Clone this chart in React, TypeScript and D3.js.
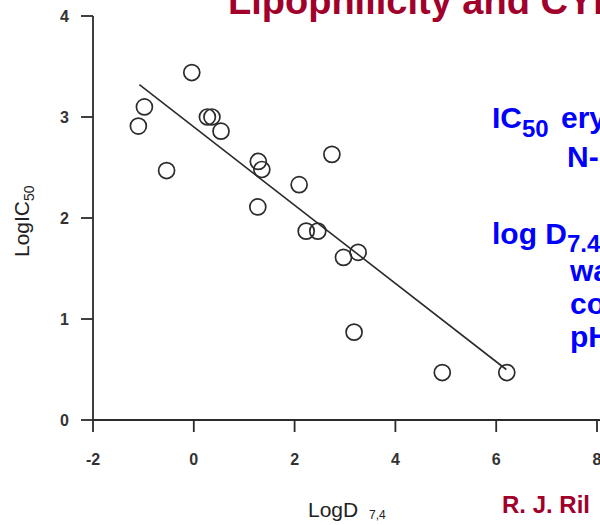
import React from 'react';
import * as d3 from 'd3';

const logD = [-0.04, -0.98, -1.1, -0.54, 0.27, 0.36, 0.54, 1.28, 1.35, 1.27, 2.09, 2.74, 2.23, 2.46, 2.97, 3.26, 3.18, 4.93, 6.21];
const logIC50 = [3.44, 3.1, 2.91, 2.47, 3.0, 3.0, 2.86, 2.56, 2.48, 2.11, 2.33, 2.63, 1.87, 1.87, 1.61, 1.66, 0.87, 0.47, 0.47];
const fitX = [-1.08, 6.2];
const fitY = [3.32, 0.5];
const xTicks = [-2, 0, 2, 4, 6, 8];
const yTicks = [0, 1, 2, 3, 4];

const W = 600;
const H = 525;
const RED = '#A1002B';
const BLUE = '#0000FF';
const INK = '#2b2b2b';
const FONT = 'Liberation Sans, Arial, Helvetica, sans-serif';

export default function App() {
  const x = d3.scaleLinear().domain([-2, 8]).range([93, 597]);
  const y = d3.scaleLinear().domain([0, 4]).range([420, 16]);
  const line = d3.line<number>().x((d) => x(d)).y((_, i) => y(fitY[i]));
  const pts = logD.map((d, i) => ({ x: d, y: logIC50[i] }));

  return (
    <svg width={W} height={H} style={{ position: 'absolute', left: 0, top: 0, background: '#fff' }} fontFamily={FONT}>
      <rect x={0} y={0} width={W} height={H} fill="#fff" />
      {/* title */}
      <text x={228} y={13.5} fontSize={38} fontWeight="bold" fill={RED}>Lipophilicity and CYP</text>

      {/* axes */}
      <g stroke={INK} strokeWidth={1.8} fill="none">
        <line x1={x(-2)} x2={x(-2)} y1={y(4)} y2={y(0)} />
        <line x1={x(-2)} x2={W} y1={y(0)} y2={y(0)} />
        {yTicks.map((t) => (
          <line key={'yt' + t} x1={x(-2) - 12} x2={x(-2)} y1={y(t)} y2={y(t)} />
        ))}
        {xTicks.map((t) => (
          <line key={'xt' + t} x1={x(t)} x2={x(t)} y1={y(0)} y2={y(0) + 12} />
        ))}
      </g>
      <g fontSize={16} fontWeight="bold" fill="#333">
        {yTicks.map((t) => (
          <text key={'yl' + t} x={69} y={y(t) + 6} textAnchor="end">{t}</text>
        ))}
        {xTicks.map((t) => (
          <text key={'xl' + t} x={x(t)} y={465} textAnchor="middle">{t}</text>
        ))}
      </g>

      {/* axis titles */}
      <text transform="translate(29,257) rotate(-90)" fontSize={21} fill="#222">
        LogIC<tspan fontSize={14} dy={5}>50</tspan>
      </text>
      <text x={308} y={517} fontSize={21} fill="#222">
        LogD<tspan x={369} y={519} fontSize={12}>7,4</tspan>
      </text>

      {/* fit line */}
      <path d={line(fitX) || ''} stroke={INK} strokeWidth={1.6} fill="none" />

      {/* points */}
      <g stroke={INK} strokeWidth={1.7} fill="none">
        {pts.map((p, i) => (
          <circle key={i} cx={x(p.x)} cy={y(p.y)} r={8} />
        ))}
      </g>

      {/* blue notes */}
      <g fill={BLUE} fontWeight="bold" fontSize={30}>
        <text x={492} y={128}>
          IC<tspan fontSize={24} dy={9}>50</tspan><tspan x={561} y={128}>ery</tspan>
        </text>
        <text x={567} y={167}>N-</text>
        <text x={492} y={244}>
          log D<tspan fontSize={24} dy={8}>7.4</tspan>
        </text>
        <text x={570} y={281}>wa</text>
        <text x={570} y={314}>co</text>
        <text x={570} y={347}>pH</text>
      </g>

      {/* citation */}
      <text x={502} y={513} fontSize={24} fontWeight="bold" fill={RED}>R. J. Ril</text>
    </svg>
  );
}
